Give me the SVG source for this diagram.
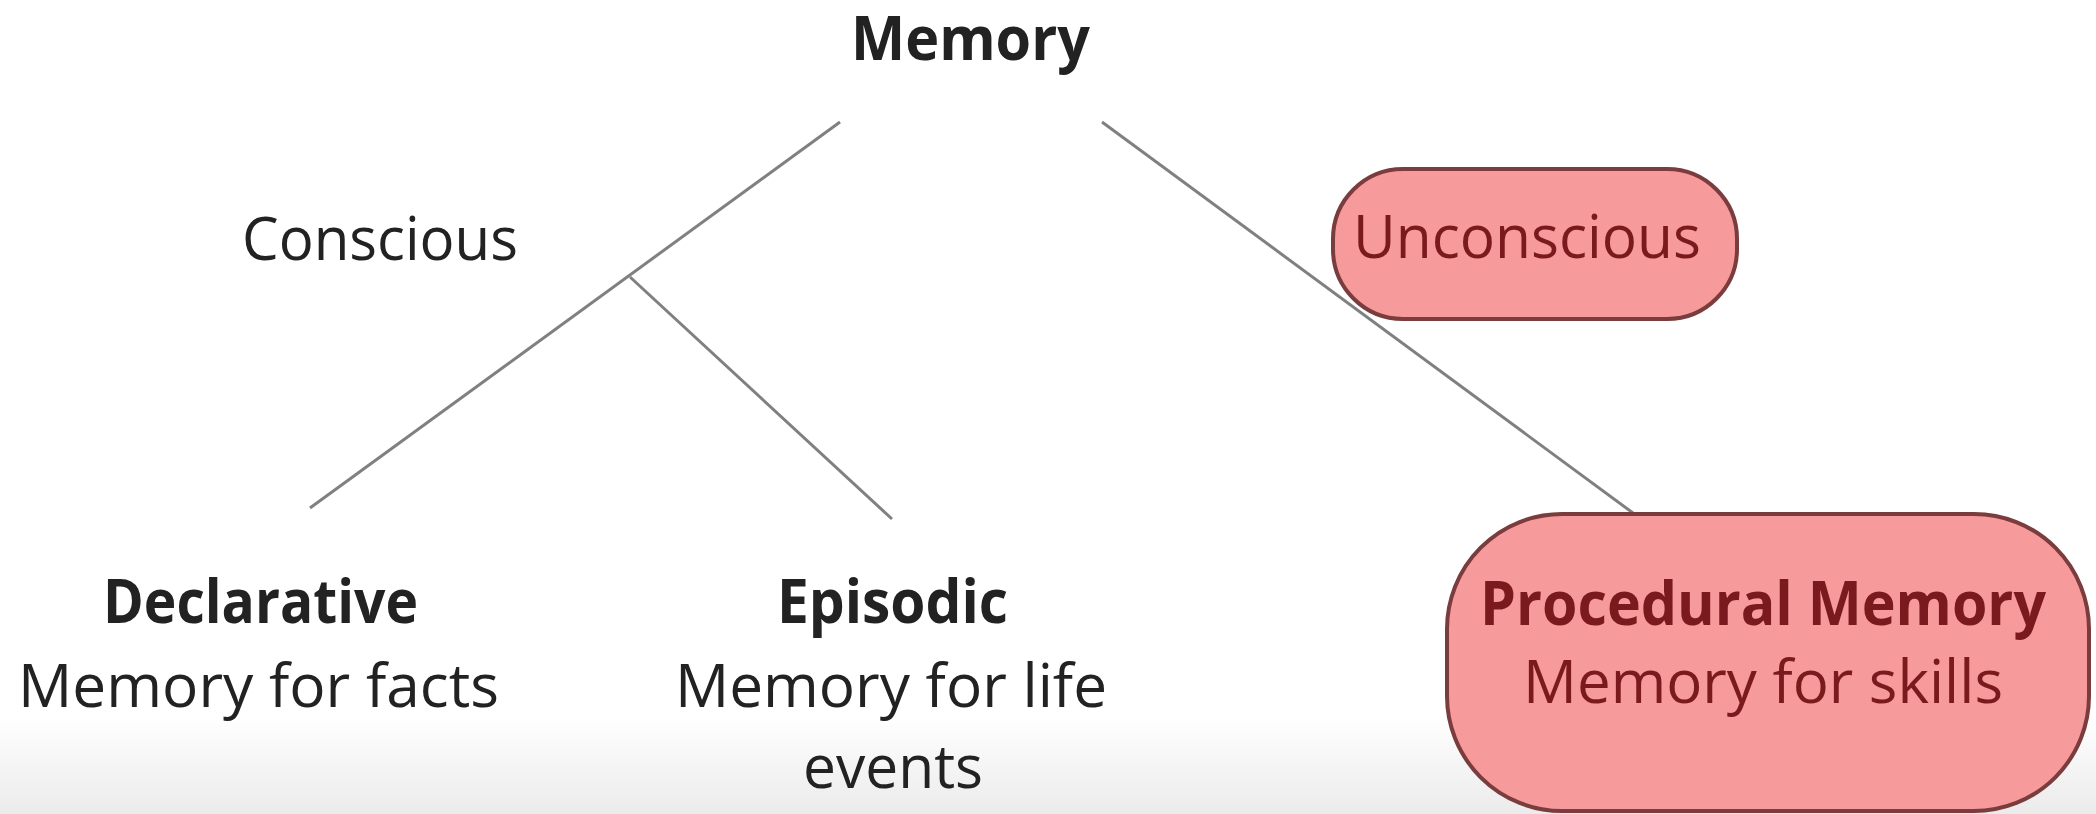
<svg xmlns="http://www.w3.org/2000/svg" width="2096" height="814" viewBox="0 0 2096 814">
<defs>
<linearGradient id="bg" x1="0" y1="0" x2="0" y2="1">
<stop offset="0" stop-color="#ffffff"/>
<stop offset="0.88" stop-color="#ffffff"/>
<stop offset="1" stop-color="#ebebeb"/>
</linearGradient>
<style>
.t{font-family:"Open Sans","Liberation Sans",sans-serif;font-size:60px;fill:#222;}
.b{font-weight:bold;}
.r{fill:#7a1a1e;}
.box{fill:#f79a9c;stroke:#7a3c3c;stroke-width:4;}
.ln{stroke:#808080;stroke-width:3;fill:none;}
</style>
</defs>
<rect width="2096" height="814" fill="url(#bg)"/>
<g id="connectors">
<line class="ln" x1="840" y1="122" x2="310" y2="508"/>
<line class="ln" x1="630" y1="277" x2="892" y2="519"/>
<line class="ln" x1="1102" y1="122" x2="1633" y2="513"/>
</g>
<g id="memory">
<text class="t b" x="851" y="60" textLength="239" lengthAdjust="spacingAndGlyphs">Memory</text>
</g>
<g id="conscious">
<text class="t" x="242" y="260" textLength="276" lengthAdjust="spacingAndGlyphs">Conscious</text>
</g>
<g id="unconscious">
<rect class="box" x="1333" y="169" width="404" height="150" rx="70"/>
<text class="t r" x="1353" y="258" textLength="348" lengthAdjust="spacingAndGlyphs">Unconscious</text>
</g>
<g id="declarative">
<text class="t b" x="103" y="623" textLength="315" lengthAdjust="spacingAndGlyphs">Declarative</text>
<text class="t" x="18" y="707" textLength="481" lengthAdjust="spacingAndGlyphs">Memory for facts</text>
</g>
<g id="episodic">
<text class="t b" x="777" y="623" textLength="231" lengthAdjust="spacingAndGlyphs">Episodic</text>
<text class="t" x="675" y="707" textLength="432" lengthAdjust="spacingAndGlyphs">Memory for life</text>
<text class="t" x="803" y="788" textLength="180" lengthAdjust="spacingAndGlyphs">events</text>
</g>
<g id="procedural">
<rect class="box" x="1447" y="514" width="642" height="297" rx="115"/>
<text class="t b r" x="1480" y="625" textLength="566" lengthAdjust="spacingAndGlyphs">Procedural Memory</text>
<text class="t r" x="1523" y="703" textLength="480" lengthAdjust="spacingAndGlyphs">Memory for skills</text>
</g>
</svg>
